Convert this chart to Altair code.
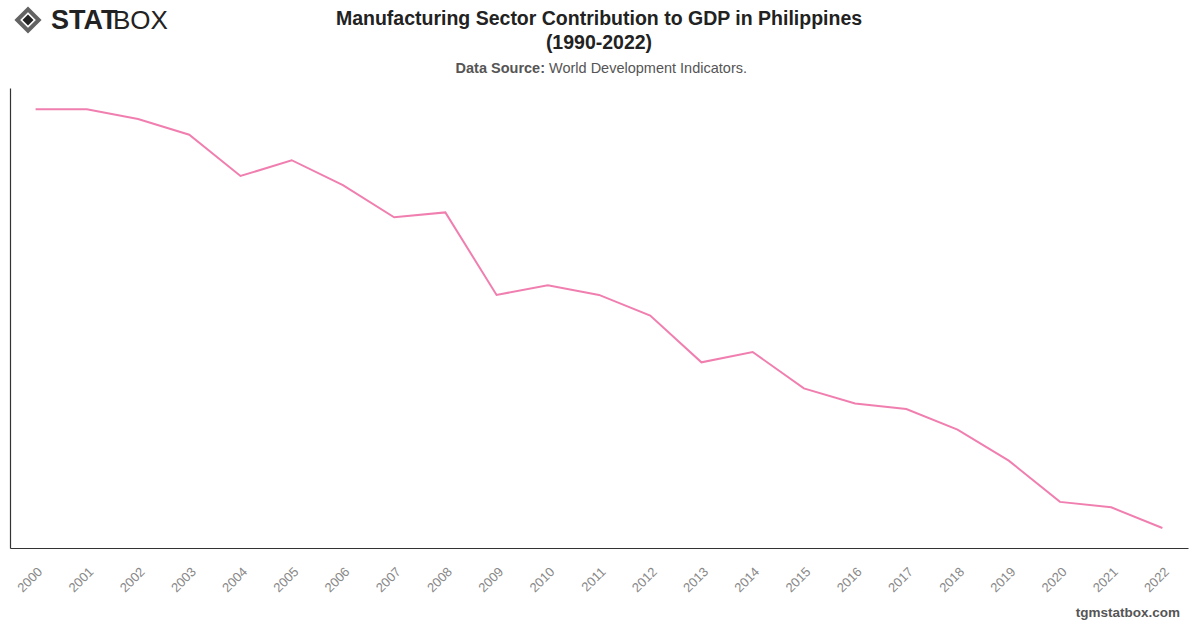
import altair as alt
import pandas as pd

years = [str(y) for y in range(2000, 2023)]
values = [24.20, 24.20, 24.04, 23.78, 23.10, 23.36, 22.95, 22.42, 22.50, 21.14,
          21.30, 21.14, 20.80, 20.03, 20.20, 19.60, 19.35, 19.26, 18.92, 18.41,
          17.73, 17.64, 17.30]

df = pd.DataFrame({"year": years, "value": values})

FONT = "Liberation Sans"

line = alt.Chart(df).mark_line(color="#f07fb0", strokeWidth=2).encode(
    x=alt.X("year:O", title=None,
            scale=alt.Scale(type="point", padding=0.5),
            axis=alt.Axis(labelAngle=-45, ticks=False, labelPadding=17,
                          labelColor="#888", labelFontSize=13, labelFont=FONT,
                          domainColor="#333", domainWidth=1.2, grid=False)),
    y=alt.Y("value:Q", title=None,
            scale=alt.Scale(domain=[16.97, 24.55], zero=False, nice=False),
            axis=alt.Axis(labels=False, ticks=False, grid=False,
                          domainColor="#333", domainWidth=1.2)),
)

one = pd.DataFrame({"a": [0]})

def txt(text, x, y, size, weight="normal", color="#222", align="center", font=FONT):
    return alt.Chart(one).mark_text(
        text=text, fontSize=size, fontWeight=weight, color=color,
        align=align, baseline="alphabetic", font=font
    ).encode(x=alt.value(x), y=alt.value(y))

title1 = txt("Manufacturing Sector Contribution to GDP in Philippines", 589, -63, 19.5, "bold")
title2 = txt("(1990-2022)", 589, -39, 19.5, "bold")
sub1 = txt("Data Source:", 535, -15, 14.5, "bold", "#555", "right")
sub2 = txt("World Development Indicators.", 539, -15, 14.5, "normal", "#555", "left")
footer = txt("tgmstatbox.com", 1170, 529, 13.5, "bold", "#555", "right")

logo_stat = txt("STAT", 41, -59, 27, 900, "#222", "left")
logo_box = txt("BOX", 103, -59, 26, 300, "#222", "left")
icon_outer = alt.Chart(one).mark_point(shape="diamond", filled=False, stroke="#222",
                                       strokeWidth=4, size=460).encode(
    x=alt.value(18), y=alt.value(-68))
icon_inner = alt.Chart(one).mark_point(shape="diamond", filled=True, color="#222",
                                       size=120, opacity=1).encode(
    x=alt.value(18), y=alt.value(-68))

chart = alt.layer(line, title1, title2, sub1, sub2, footer,
                  logo_stat, logo_box, icon_outer, icon_inner).properties(
    width=1178, height=460,
    autosize=alt.AutoSizeParams(type="none"),
    padding={"left": 10, "top": 88, "right": 12, "bottom": 80},
    background="white",
).configure_view(stroke=None)

chart.save("out.html", embed_options={"renderer": "svg", "actions": False})
